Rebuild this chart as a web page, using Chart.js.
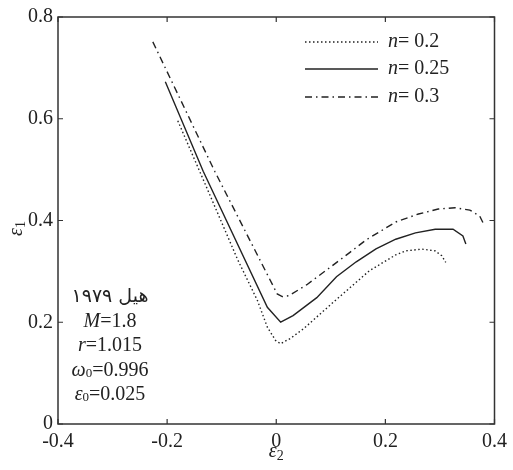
<!DOCTYPE html>
<html>
<head>
<meta charset="utf-8">
<script src="https://cdn.jsdelivr.net/npm/chart.js@4"></script>
<style>
html,body{margin:0;padding:0;background:#fff;}
#wrap{width:513px;height:470px;position:relative;}
</style>
</head>
<body>
<div id="wrap"><canvas id="c" width="513" height="470"></canvas></div>
<script>
// ---- data ----
const seriesLabels = ['0.2', '0.25', '0.3'];
const n02_x = [-0.1805, -0.1339, -0.0706, -0.0344, -0.0163, -0.0013, 0.0078, 0.0259, 0.0501, 0.1044, 0.1707, 0.2190, 0.2371, 0.2673, 0.2914, 0.3035, 0.3107];
const n02_y = [0.5960, 0.4806, 0.3227, 0.2425, 0.1903, 0.1643, 0.1578, 0.1682, 0.1872, 0.2392, 0.3012, 0.3325, 0.3403, 0.3437, 0.3403, 0.3306, 0.3175];
const n025_x = [-0.2033, -0.1339, -0.0163, 0.0081, 0.0308, 0.0743, 0.1104, 0.1466, 0.1828, 0.2190, 0.2552, 0.2914, 0.3240, 0.3421, 0.3475];
const n025_y = [0.6728, 0.4968, 0.2294, 0.2001, 0.2132, 0.2484, 0.2895, 0.3188, 0.3443, 0.3632, 0.3756, 0.3828, 0.3828, 0.3697, 0.3540];
const n03_x = [-0.2262, -0.1128, 0.0018, 0.0109, 0.0235, 0.0561, 0.0977, 0.1339, 0.1647, 0.2009, 0.2190, 0.2606, 0.2968, 0.3276, 0.3548, 0.3729, 0.3819];
const n03_y = [0.7511, 0.4968, 0.2556, 0.2504, 0.2523, 0.2738, 0.3071, 0.3364, 0.3619, 0.3853, 0.3971, 0.4127, 0.4225, 0.4250, 0.4205, 0.4088, 0.3892];
const xTickValues = [-0.4, -0.2, 0, 0.2, 0.4];
const xTickLabels = ['-0.4', '-0.2', '0', '0.2', '0.4'];
const yTickValues = [0, 0.2, 0.4, 0.6, 0.8];
const yTickLabels = ['0', '0.2', '0.4', '0.6', '0.8'];
const noteLines = ['هیل ۱۹۷۹', 'M=1.8', 'r=1.015', 'ω0=0.996', 'ε0=0.025'];

function pts(xs, ys){ return xs.map((x,i)=>({x:x, y:ys[i]})); }

const SERIF = '"Liberation Serif", "DejaVu Serif", serif';
const dashes = [[1.5,2.5], [], [7,4,1.5,4]];

// draw text runs [text, font, dy] starting at x
function runsWidth(ctx, runs){ let w=0; for(const r of runs){ ctx.font=r[1]; w+=ctx.measureText(r[0]).width; } return w; }
function drawRuns(ctx, runs, x, y){
  for(const r of runs){ ctx.font=r[1]; ctx.fillText(r[0], x, y + (r[2]||0)); x += ctx.measureText(r[0]).width; }
}

const decor = {
  id:'decor',
  afterDraw(chart){
    const ctx = chart.ctx, a = chart.chartArea;
    const xs = chart.scales.x, ys = chart.scales.y;
    ctx.save();
    ctx.strokeStyle = '#333'; ctx.lineWidth = 1.5;
    ctx.strokeRect(a.left, a.top, a.right-a.left, a.bottom-a.top);
    ctx.lineWidth = 1.2;
    const tl = 5;
    ctx.beginPath();
    xTickValues.forEach(v=>{ const p = xs.getPixelForValue(v);
      ctx.moveTo(p, a.bottom); ctx.lineTo(p, a.bottom-tl);
      ctx.moveTo(p, a.top); ctx.lineTo(p, a.top+tl); });
    yTickValues.forEach(v=>{ const p = ys.getPixelForValue(v);
      ctx.moveTo(a.left, p); ctx.lineTo(a.left+tl, p);
      ctx.moveTo(a.right, p); ctx.lineTo(a.right-tl, p); });
    ctx.stroke();

    ctx.fillStyle = '#222'; ctx.textBaseline = 'middle'; ctx.textAlign='left';
    // legend
    const lx0 = 305, lx1 = 378, ly = [42, 69, 97];
    chart.data.datasets.forEach((ds,i)=>{
      ctx.strokeStyle = '#222'; ctx.lineWidth = 1.3; ctx.setLineDash(ds.borderDash||[]);
      ctx.beginPath(); ctx.moveTo(lx0, ly[i]); ctx.lineTo(lx1, ly[i]); ctx.stroke();
      ctx.setLineDash([]);
      drawRuns(ctx, [['n', 'italic 20px '+SERIF], ['= '+seriesLabels[i], '20px '+SERIF]], 388, ly[i]);
    });

    // annotation block
    const cx = 110, y0 = 297, dy = 24.5;
    ctx.font = '19px "DejaVu Sans", "Noto Sans", sans-serif';
    ctx.textAlign = 'center'; ctx.direction = 'rtl';
    ctx.fillText(noteLines[0], cx, y0);
    ctx.direction = 'ltr'; ctx.textAlign = 'left';
    const it = 'italic 20px '+SERIF, rm = '20px '+SERIF, sub = '13px '+SERIF;
    const blocks = [
      [['M', it], ['=1.8', rm]],
      [['r', it], ['=1.015', rm]],
      [['ω', it], ['0', sub, 3], ['=0.996', rm]],
      [['ε', it], ['0', sub, 3], ['=0.025', rm]],
    ];
    blocks.forEach((runs, k)=>{
      const w = runsWidth(ctx, runs);
      drawRuns(ctx, runs, cx - w/2, y0 + dy*(k+1));
    });

    // axis titles
    const r2 = [['ε', 'italic 20px '+SERIF], ['2', '14px '+SERIF, 4]];
    const w2 = runsWidth(ctx, r2);
    drawRuns(ctx, r2, (a.left+a.right)/2 - w2/2, 452);
    ctx.translate(17, (a.top+a.bottom)/2 + 8);
    ctx.rotate(-Math.PI/2);
    const r1 = [['ε', 'italic 20px '+SERIF], ['1', '14px '+SERIF, 4]];
    const w1 = runsWidth(ctx, r1);
    drawRuns(ctx, r1, -w1/2, 0);
    ctx.restore();
  }
};

new Chart(document.getElementById('c'), {
  type: 'scatter',
  data: {
    datasets: [
      {label:'n= '+seriesLabels[0], data: pts(n02_x, n02_y), borderDash: dashes[0]},
      {label:'n= '+seriesLabels[1], data: pts(n025_x, n025_y), borderDash: dashes[1]},
      {label:'n= '+seriesLabels[2], data: pts(n03_x, n03_y), borderDash: dashes[2]},
    ].map(d=>Object.assign(d, {showLine:true, borderColor:'#222', borderWidth:1.4, pointRadius:0, tension:0, fill:false}))
  },
  options: {
    responsive:false, animation:false, devicePixelRatio:1,
    layout:{padding:{top:15, right:13, left:0, bottom:0}},
    plugins:{legend:{display:false}, tooltip:{enabled:false}},
    scales:{
      x:{type:'linear', min:-0.4, max:0.4,
        afterBuildTicks(s){ s.ticks = xTickValues.map(v=>({value:v})); },
        afterFit(s){ s.height = 46; },
        grid:{display:false, drawTicks:false}, border:{display:false},
        ticks:{padding:6, color:'#222', font:{family:SERIF, size:20}, maxRotation:0, autoSkip:false,
          callback:(v,i)=>xTickLabels[i]}},
      y:{type:'linear', min:0, max:0.8,
        afterBuildTicks(s){ s.ticks = yTickValues.map(v=>({value:v})); },
        afterFit(s){ s.width = 58; },
        grid:{display:false, drawTicks:false}, border:{display:false},
        ticks:{padding:5, color:'#222', font:{family:SERIF, size:20}, autoSkip:false,
          callback:(v,i)=>yTickLabels[i]}}
    }
  },
  plugins:[decor]
});
</script>
</body>
</html>
